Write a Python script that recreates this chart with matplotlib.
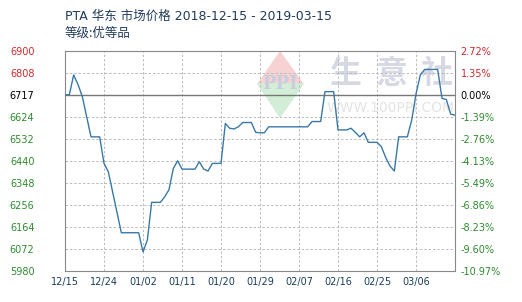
import numpy as np
import matplotlib.pyplot as plt
from matplotlib.patches import Polygon

plt.rcParams['font.family'] = ['DejaVu Sans', 'Noto Sans CJK SC']

# daily price, 2018-12-15 .. 2019-03-15 (day 0..90)
prices = [6717, 6717, 6800, 6760, 6709, 6625, 6541, 6541, 6541, 6430,
          6395, 6310, 6225, 6140, 6140, 6140, 6140, 6140, 6060, 6109,
          6267, 6267, 6267, 6290, 6320, 6409, 6441, 6406, 6406, 6406,
          6406, 6437, 6406, 6398, 6430, 6430, 6430, 6597, 6577, 6574,
          6583, 6601, 6601, 6601, 6560, 6558, 6558, 6583, 6583, 6583,
          6583, 6583, 6583, 6583, 6583, 6583, 6583, 6605, 6605, 6605,
          6730, 6730, 6730, 6570, 6570, 6570, 6577, 6560, 6541, 6558,
          6518, 6518, 6518, 6500, 6455, 6419, 6398, 6541, 6541, 6541,
          6610, 6720, 6800, 6823, 6823, 6823, 6823, 6702, 6697, 6636,
          6632]
base = 6717
yticks = [5980, 6072, 6164, 6256, 6348, 6440, 6532, 6624, 6717, 6808, 6900]
pct_labels = ['-10.97%', '-9.60%', '-8.23%', '-6.86%', '-5.49%', '-4.13%',
              '-2.76%', '-1.39%', '0.00%', '1.35%', '2.72%']
xtick_days = [0, 9, 18, 27, 36, 45, 54, 63, 72, 81]
xtick_labels = ['12/15', '12/24', '01/02', '01/11', '01/20', '01/29',
                '02/07', '02/16', '02/25', '03/06']
title = 'PTA 华东 市场价格 2018-12-15 - 2019-03-15'
subtitle = '等级:优等品'

fig = plt.figure(figsize=(5.22, 3.02), dpi=100)
ax = fig.add_axes([65/522, 31/302, 390/522, 220/302])
days = np.arange(len(prices))

def col(v):
    if v > base:
        return '#d0282a'
    if v == base:
        return 'black'
    return '#2e8b2e'

# watermark
logo = fig.add_axes([0, 0, 1, 1], zorder=-1)
logo.set_xlim(0, 522)
logo.set_ylim(302, 0)
logo.axis('off')
logo.add_patch(Polygon([[258, 84], [280, 52], [303, 84]], color='#f6d2d2'))
logo.add_patch(Polygon([[258, 84], [280, 117], [303, 84]], color='#d2eed6'))
logo.text(280, 84, 'PPI', ha='center', va='center', fontsize=13,
          color='#c8cde0', family='DejaVu Serif', fontweight='bold')
for cx, ch in zip([345, 392, 437], '生意社'):
    logo.text(cx, 74, ch, ha='center', va='center', fontsize=23,
              color='#d6d9e3', family='Noto Sans CJK SC', fontweight='bold')
logo.text(391, 108, 'WWW.100PPI.COM', ha='center', va='center', fontsize=10,
          color='#e4e4e4')
ax.patch.set_alpha(0)

ax.plot(days, prices, color='#3a78a8', lw=1.0, zorder=3)
ax.axhline(base, color='#777777', lw=1.0, zorder=2)

ax.set_xlim(0, 90)
ax.set_ylim(5980, 6900)
ax.set_xticks(xtick_days)
ax.set_xticklabels(xtick_labels, fontsize=7, color='#1a3d5c')
ax.set_yticks(yticks)
ax.set_yticklabels([str(v) for v in yticks], fontsize=7)
for lbl, v in zip(ax.get_yticklabels(), yticks):
    lbl.set_color(col(v))
ax.tick_params(length=0, pad=4)
ax.tick_params(axis='y', pad=22)
ax.grid(True, ls=(0, (2.5, 2)), color='#bbbbbb', lw=0.7)
for s in ax.spines.values():
    s.set_color('#888888')

ax2 = ax.twinx()
ax2.set_ylim(5980, 6900)
ax2.set_yticks(yticks)
ax2.set_yticklabels(pct_labels, fontsize=7)
for lbl, v in zip(ax2.get_yticklabels(), yticks):
    lbl.set_color(col(v))
ax2.tick_params(length=0, pad=4)
for s in ax2.spines.values():
    s.set_visible(False)

fig.text(65/522, 1 - 16/302, title, fontsize=9, color='#1f3a5a', va='center',
         family=['DejaVu Sans', 'Noto Sans CJK SC'])
fig.text(65/522, 1 - 33/302, subtitle, fontsize=9, color='#1f3a5a', va='center',
         family=['Noto Sans CJK SC'])

fig.savefig('out.png', dpi=100)
